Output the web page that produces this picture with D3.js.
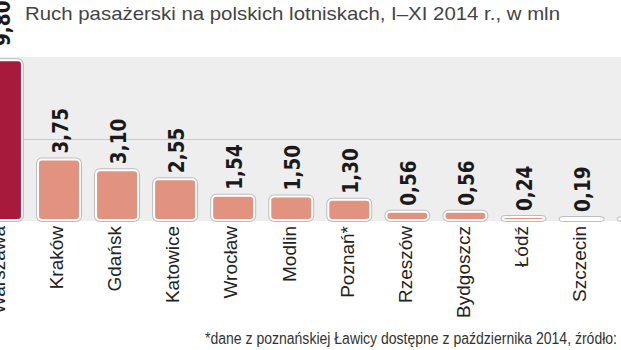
<!DOCTYPE html>
<html>
<head>
<meta charset="utf-8">
<script src="https://cdn.jsdelivr.net/npm/d3@7/dist/d3.min.js"></script>
<style>
  html, body { margin: 0; padding: 0; background: #fff; }
  svg { display: block; }
</style>
</head>
<body>
<svg id="chart" width="621" height="350"></svg>
<script>
// Passenger traffic at Polish airports, Jan–Nov 2014, millions
const airports = ["Warszawa", "Kraków", "Gdańsk", "Katowice", "Wrocław", "Modlin",
                  "Poznań*", "Rzeszów", "Bydgoszcz", "Łódź", "Szczecin", "Lublin"];
const passengers = [9.80, 3.75, 3.10, 2.55, 1.54, 1.50, 1.30, 0.56, 0.56, 0.24, 0.19, 0.17];
const valueLabels = ["9,80", "3,75", "3,10", "2,55", "1,54", "1,50", "1,30", "0,56", "0,56", "0,24", "0,19", "0,17"];
const gridTicks = [5];
const titleText = "Ruch pasażerski na polskich lotniskach, I–XI 2014 r., w mln";
const noteText = "*dane z poznańskiej Ławicy dostępne z października 2014, źródło:";

const W = 621, H = 350;
const svg = d3.select("#chart");

const data = airports.map((name, i) => ({ name, value: passengers[i], label: valueLabels[i] }));

const y = d3.scaleLinear().domain([0, 10]).range([221, 57]);

const step = 58.06;
const x = d3.scaleBand()
  .domain(airports)
  .range([0.94 - step / 2, 0.94 - step / 2 + step * airports.length])
  .paddingInner(0.277)
  .paddingOuter(0.1385);

// grey plotting panel
svg.append("rect")
  .attr("x", 0).attr("y", y(10))
  .attr("width", W).attr("height", y(0) - y(10))
  .attr("fill", "#eeeeee");

// gridline at 5 mln
svg.append("g")
  .selectAll("line")
  .data(gridTicks)
  .join("line")
  .attr("x1", 0).attr("x2", W)
  .attr("y1", d => Math.round(y(d)) + 0.5)
  .attr("y2", d => Math.round(y(d)) + 0.5)
  .attr("stroke", "#c9c9c9")
  .attr("stroke-width", 1);

const barColor = (d, i) => i === 0 ? "#a81a3b" : "#e29380";

const bars = svg.append("g");
// soft grey rim around each bar
bars.selectAll("rect.rim")
  .data(data)
  .join("rect")
  .attr("class", "rim")
  .attr("x", d => x(d.name))
  .attr("y", d => y(d.value))
  .attr("width", x.bandwidth())
  .attr("height", d => y(0) - y(d.value) - 1)
  .attr("rx", 4).attr("ry", 4)
  .attr("fill", "none")
  .attr("stroke", "#bdbdbd")
  .attr("stroke-width", 4);

bars.selectAll("rect.bar")
  .data(data)
  .join("rect")
  .attr("class", "bar")
  .attr("x", d => x(d.name))
  .attr("y", d => y(d.value))
  .attr("width", x.bandwidth())
  .attr("height", d => y(0) - y(d.value) - 1)
  .attr("rx", 4).attr("ry", 4)
  .attr("fill", barColor)
  .attr("stroke", "#ffffff")
  .attr("stroke-width", 2);

const cx = d => x(d.name) + x.bandwidth() / 2;

// value labels, rotated, just above each bar; a bar reaching the panel top
// gets its label lifted clear of the panel edge
const labelStart = d => {
  const s = y(d.value) - 6;
  return s < y(10) ? y(10) - 11 : s;
};
svg.append("g")
  .selectAll("text")
  .data(data)
  .join("text")
  .attr("transform", d => `translate(${cx(d) + 1.5},${labelStart(d)}) rotate(-90)`)
  .attr("dy", "0.36em")
  .attr("text-anchor", "start")
  .attr("font-family", "'DejaVu Sans Condensed', 'DejaVu Sans', sans-serif")
  .attr("font-stretch", "condensed")
  .attr("font-weight", "bold")
  .attr("font-size", 20.5)
  .attr("fill", "#1a1a1a")
  .text(d => d.label);

// category labels below the baseline
svg.append("g")
  .selectAll("text")
  .data(data)
  .join("text")
  .attr("transform", d => `translate(${cx(d) + 4.3},226) rotate(-90)`)
  .attr("text-anchor", "end")
  .attr("font-family", "'Liberation Sans', Arial, sans-serif")
  .attr("font-size", 19)
  .attr("fill", "#222")
  .text(d => d.name);

// title
svg.append("text")
  .attr("x", 25).attr("y", 20)
  .attr("font-family", "'Liberation Sans', Arial, sans-serif")
  .attr("font-size", 19)
  .attr("textLength", 535)
  .attr("lengthAdjust", "spacingAndGlyphs")
  .attr("fill", "#444")
  .text(titleText);

// footnote, set narrow
svg.append("text")
  .attr("x", 205).attr("y", 344)
  .attr("font-family", "'Liberation Sans', Arial, sans-serif")
  .attr("font-size", 16)
  .attr("textLength", 412)
  .attr("lengthAdjust", "spacingAndGlyphs")
  .attr("fill", "#333")
  .text(noteText);
</script>
</body>
</html>
